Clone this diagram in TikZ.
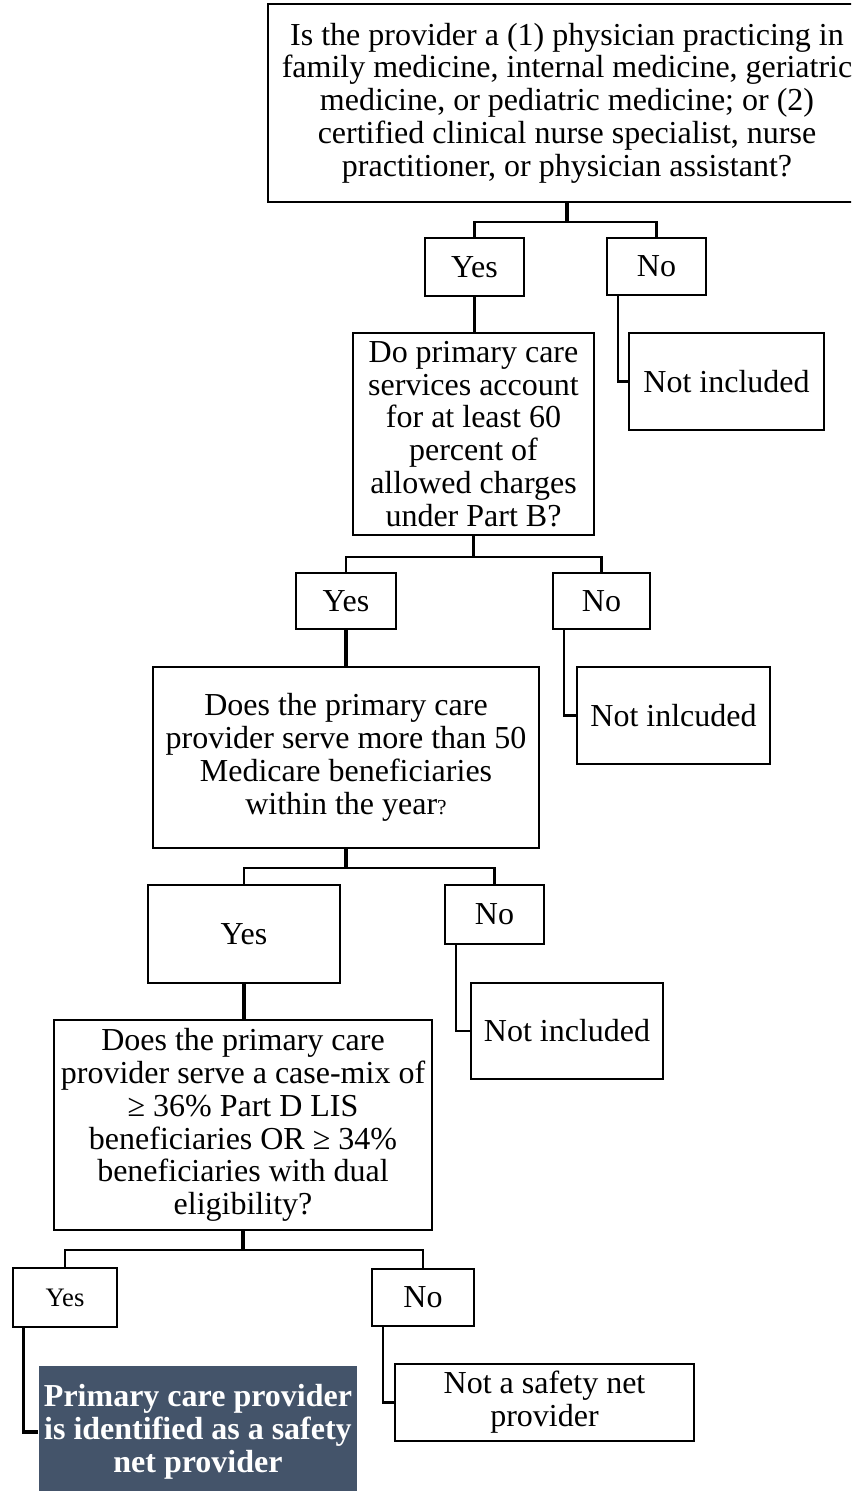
\documentclass[tikz,border=0pt]{standalone}
\usepackage{fontspec}
\setmainfont{Liberation Serif}
\definecolor{slate}{HTML}{44546A}
\tikzset{
  box/.style={draw=black, line width=1.2pt, align=center, inner sep=0pt,
    font=\fontsize{24}{24.6}\selectfont},
  endbox/.style={box, draw=none, fill=slate, text=white, font=\fontsize{24}{24.6}\selectfont\bfseries},
  link/.style={black, line width=1.6pt},
  stem/.style={black, line width=2.4pt},
}

\begin{document}
\begin{tikzpicture}[x=0.75pt, y=-0.75pt]
  \useasboundingbox (0,0) rectangle (851,1491);
  \clip (0,0) rectangle (851,1491);
  % first question
  \node[box, minimum width=448.5pt, minimum height=148.5pt] (q1) at (567,103)
    {Is the provider a (1) physician practicing in\\family medicine, internal medicine, geriatric\\medicine, or pediatric medicine; or (2)\\certified clinical nurse specialist, nurse\\practitioner, or physician assistant?};
  \node[box, minimum width=74.25pt, minimum height=43.5pt] (yes1) at (474.5,267) {Yes};
  \node[box, minimum width=74.25pt, minimum height=42.75pt] (no1) at (656.5,266.5) {No};
  \node[box, minimum width=146.25pt, minimum height=72.75pt] (ni1) at (726.5,381.5) {Not included};
  % second question
  \node[box, minimum width=180.75pt, minimum height=151.5pt] (q2) at (473.5,434)
    {Do primary care\\services account\\for at least 60\\percent of\\allowed charges\\under Part B?};
  \node[box, minimum width=75pt, minimum height=42pt] (yes2) at (346,601) {Yes};
  \node[box, minimum width=72.75pt, minimum height=42pt] (no2) at (601.5,601) {No};
  \node[box, minimum width=144.75pt, minimum height=72.75pt] (ni2) at (673.5,715.5) {Not inlcuded};
  % third question
  \node[box, minimum width=289.5pt, minimum height=135.75pt] (q3) at (346,757.5)
    {Does the primary care\\provider serve more than 50\\Medicare beneficiaries\\within the year{\fontsize{16}{16}\selectfont ?}};
  \node[box, minimum width=144pt, minimum height=73.5pt] (yes3) at (244,934) {Yes};
  \node[box, minimum width=74.25pt, minimum height=44.25pt] (no3) at (494.5,914.5) {No};
  \node[box, minimum width=144pt, minimum height=72pt] (ni3) at (567,1031) {Not included};
  % fourth question
  \node[box, minimum width=283.5pt, minimum height=157.5pt] (q4) at (243,1125)
    {Does the primary care\\provider serve a case-mix of\\≥ 36\% Part D LIS\\beneficiaries OR ≥ 34\%\\beneficiaries with dual\\eligibility?};
  \node[box, minimum width=78pt, minimum height=44.25pt, font=\fontsize{20}{21}\selectfont] (yes4) at (65,1297.5) {Yes};
  \node[box, minimum width=76.5pt, minimum height=42.75pt] (no4) at (423,1297.5) {No};
  \node[endbox, minimum width=238.5pt, minimum height=99pt] (safe) at (198,1432)
    {Primary care provider\\is identified as a safety\\net provider};
  \node[box, minimum width=224.25pt, minimum height=57.75pt] (notsafe) at (544.5,1402.5)
    {Not a safety net\\provider};

  % connectors
  \draw[stem] (q1.south) -- ++(0,19) coordinate (b1);
  \draw[link] (b1) -| (yes1.north);
  \draw[link] (b1) -| (no1.north);
  \draw[stem] (yes1.south) -- (yes1.south |- q2.north);
  \draw[link] ([xshift=8.6pt]no1.south west) |- (ni1.west);

  \draw[stem] (q2.south) -- ++(0,21) coordinate (b2);
  \draw[link] (b2) -| (yes2.north);
  \draw[link] (b2) -| (no2.north);
  \draw[stem] (yes2.south) -- (yes2.south |- q3.north);
  \draw[link] ([xshift=8.6pt]no2.south west) |- (ni2.west);

  \draw[stem] (q3.south) -- ++(0,19) coordinate (b3);
  \draw[link] (b3) -| (yes3.north);
  \draw[link] (b3) -| (no3.north);
  \draw[stem] (yes3.south) -- (yes3.south |- q4.north);
  \draw[link] ([xshift=8.6pt]no3.south west) |- (ni3.west);

  \draw[stem] (q4.south) -- ++(0,19) coordinate (b4);
  \draw[link] (b4) -| (yes4.north);
  \draw[link] (b4) -| (no4.north);
  \draw[stem] ([xshift=8.6pt]yes4.south west) |- (safe.west);
  \draw[link] ([xshift=8.6pt]no4.south west) |- (notsafe.west);
\end{tikzpicture}
\end{document}
